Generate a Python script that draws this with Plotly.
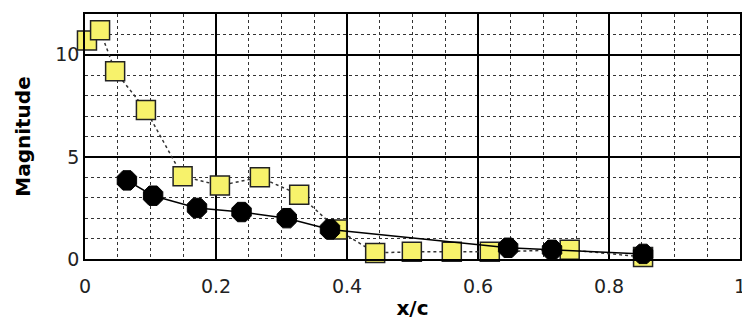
import plotly.graph_objects as go

# Yellow series (squares, dotted line)
yellow_x = [0.003, 0.023, 0.046, 0.093, 0.149, 0.206, 0.267, 0.327, 0.385, 0.443, 0.499, 0.560, 0.618, 0.740, 0.852]
yellow_y = [10.7, 11.2, 9.2, 7.3, 4.05, 3.6, 4.0, 3.15, 1.45, 0.3, 0.35, 0.35, 0.35, 0.45, 0.1]

# Black series (octagons, solid line)
black_x = [0.064, 0.104, 0.171, 0.239, 0.308, 0.374, 0.646, 0.713, 0.852]
black_y = [3.85, 3.1, 2.5, 2.3, 2.0, 1.45, 0.55, 0.45, 0.25]

x_ticks = [0, 0.2, 0.4, 0.6, 0.8, 1]
x_labels = ["0", "0.2", "0.4", "0.6", "0.8", "1"]
y_ticks = [0, 5, 10]
y_labels = ["0", "5", "10"]

fig = go.Figure()
fig.add_trace(go.Scatter(
    x=yellow_x, y=yellow_y, mode="lines+markers",
    line=dict(color="#333333", width=1.5, dash="dot"),
    marker=dict(symbol="square", size=19, color="#F7F26B",
                line=dict(color="#222222", width=1.5)),
    cliponaxis=False, showlegend=False))
fig.add_trace(go.Scatter(
    x=black_x, y=black_y, mode="lines+markers",
    line=dict(color="#000000", width=1.5),
    marker=dict(symbol="octagon", size=21, color="#000000",
                line=dict(color="#000000", width=1)),
    cliponaxis=False, showlegend=False))

tick_font = dict(family="DejaVu Sans", size=19, color="#222222")
title_font = dict(family="DejaVu Sans", size=20, color="#000000", weight="bold")

fig.update_xaxes(
    range=[0, 1], tickvals=x_ticks, ticktext=x_labels,
    showgrid=True, gridcolor="#000000", gridwidth=1.5,
    minor=dict(dtick=0.05, showgrid=True, gridcolor="#333333", griddash="dot", gridwidth=1),
    showline=True, linecolor="#000000", linewidth=1.5, mirror=True,
    zeroline=False, ticks="", tickfont=tick_font, automargin=False,
    ticklabelstandoff=9,
    title=dict(text="x/c", font=title_font, standoff=5))
fig.update_yaxes(
    range=[0, 12], tickvals=y_ticks, ticktext=y_labels,
    showgrid=True, gridcolor="#000000", gridwidth=1.5,
    minor=dict(dtick=1, showgrid=True, gridcolor="#333333", griddash="dot", gridwidth=1),
    showline=True, linecolor="#000000", linewidth=1.5, mirror=True,
    zeroline=False, ticks="", tickfont=tick_font, automargin=False,
    title=dict(text="Magnitude", font=title_font, standoff=19))

# page body adds an 8px offset; size the figure to fit the 750x333 window
fig.update_layout(
    width=742, height=325,
    margin=dict(l=77, r=10, t=6, b=74),
    paper_bgcolor="white", plot_bgcolor="white")

fig.write_html("out.html")
